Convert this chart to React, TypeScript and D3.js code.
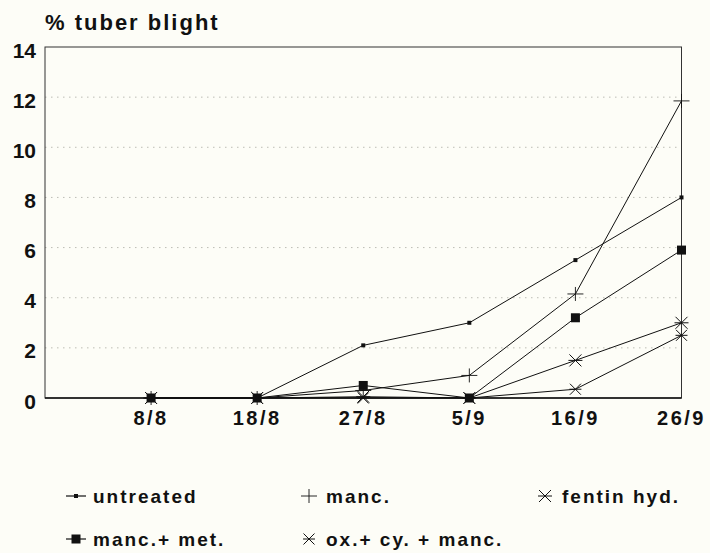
import * as d3 from 'd3';

const dates = ['', '8/8', '18/8', '27/8', '5/9', '16/9', '26/9'];
const yTicks = [0, 2, 4, 6, 8, 10, 12, 14];
const gridValues = [2, 4, 6, 8, 10, 12];

const untreated = [null, 0, 0, 2.1, 3.0, 5.5, 8.0];
const manc = [null, 0, 0, 0.3, 0.9, 4.15, 11.85];
const mancMet = [null, 0, 0, 0.5, 0, 3.2, 5.9];
const fentin = [null, 0, 0, 0.05, 0, 1.5, 3.0];
const oxCyManc = [null, 0, 0, 0, 0, 0.35, 2.5];

type Marker = 'dot' | 'plus' | 'square' | 'star' | 'cross';

const seriesList: { name: string; values: (number | null)[]; marker: Marker }[] = [
  { name: 'untreated', values: untreated, marker: 'dot' },
  { name: 'manc.', values: manc, marker: 'plus' },
  { name: 'manc.+ met.', values: mancMet, marker: 'square' },
  { name: 'fentin hyd.', values: fentin, marker: 'star' },
  { name: 'ox.+ cy. + manc.', values: oxCyManc, marker: 'cross' },
];

const legendOrder = [
  { s: 0, col: 0, row: 0 },
  { s: 1, col: 1, row: 0 },
  { s: 3, col: 2, row: 0 },
  { s: 2, col: 0, row: 1 },
  { s: 4, col: 1, row: 1 },
];

const left = 45;
const right = 681.5;
const top = 47;
const bottom = 398;

const x = d3.scalePoint<string>().domain(dates).range([left, right]);
const y = d3.scaleLinear().domain([0, 14]).range([bottom, top]);

const font = '"Liberation Sans", Arial, sans-serif';

function MarkerShape({ type, cx, cy }: { type: Marker; cx: number; cy: number }) {
  const k = '#111';
  if (type === 'dot') return <rect x={cx - 2} y={cy - 2} width={4} height={4} fill={k} />;
  if (type === 'square') return <rect x={cx - 4.5} y={cy - 4.5} width={9} height={9} fill={k} />;
  if (type === 'plus')
    return (
      <path d={`M${cx - 8},${cy}H${cx + 8}M${cx},${cy - 7}V${cy + 7}`} stroke={k} strokeWidth={0.9} fill="none" />
    );
  const r = type === 'star' ? 6 : 5.5;
  const extra = type === 'star' ? `M${cx - 7},${cy}H${cx + 7}` : `M${cx - 6},${cy}H${cx + 6}`;
  return (
    <path
      d={`M${cx - r},${cy - r}L${cx + r},${cy + r}M${cx - r},${cy + r}L${cx + r},${cy - r}${extra}`}
      stroke={k}
      strokeWidth={1}
      fill="none"
    />
  );
}

export default function App() {
  const line = d3
    .line<number | null>()
    .defined((d) => d !== null)
    .x((_, i) => x(dates[i]) as number)
    .y((d) => y(d as number));

  const legendX = [76, 309, 545];
  const legendY = [496, 539];

  return (
    <svg
      width={710}
      height={553}
      style={{ position: 'absolute', left: 0, top: 0, background: '#fdfdf7' }}
    >
      <rect width={710} height={553} fill="#fdfdf7" />
      <text x={45} y={30} fontFamily={font} fontWeight="bold" fontSize={22} letterSpacing={2} fill="#111">
        % tuber blight
      </text>

      {gridValues.map((v) => (
        <line
          key={v}
          x1={left}
          x2={right}
          y1={y(v)}
          y2={y(v)}
          stroke="#bdbdb5"
          strokeWidth={1}
          strokeDasharray="1.5 4.5"
        />
      ))}

      <rect x={left} y={top} width={right - left} height={bottom - top} fill="none" stroke="#333" strokeWidth={1} />
      <line x1={left} x2={right} y1={bottom} y2={bottom} stroke="#111" strokeWidth={1.3} />

      {yTicks.map((v) => (
        <text
          key={v}
          x={36}
          y={y(v) + 3}
          textAnchor="end"
          dominantBaseline="central"
          fontFamily={font}
          fontWeight="bold"
          fontSize={21}
          fill="#111"
        >
          {v}
        </text>
      ))}

      {dates.map((d) =>
        d ? (
          <text
            key={d}
            x={x(d)}
            y={425}
            textAnchor="middle"
            fontFamily={font}
            fontWeight="bold"
            fontSize={20}
            letterSpacing={2.5}
            fill="#111"
          >
            {d}
          </text>
        ) : null
      )}

      {seriesList.map((s) => (
        <g key={s.name}>
          <path d={line(s.values) ?? ''} fill="none" stroke="#111" strokeWidth={1} />
          {s.values.map((v, i) =>
            v === null ? null : <MarkerShape key={i} type={s.marker} cx={x(dates[i]) as number} cy={y(v)} />
          )}
        </g>
      ))}

      {legendOrder.map(({ s, col, row }) => {
        const item = seriesList[s];
        const cx = legendX[col];
        const cy = legendY[row];
        return (
          <g key={item.name}>
            {item.marker === 'dot' || item.marker === 'square' ? (
              <line x1={cx - 10} x2={cx + 10} y1={cy} y2={cy} stroke="#111" strokeWidth={1.2} />
            ) : null}
            <MarkerShape type={item.marker} cx={cx} cy={cy} />
            <text
              x={cx + 17}
              y={cy}
              dominantBaseline="central"
              fontFamily={font}
              fontWeight="bold"
              fontSize={19}
              letterSpacing={2}
              fill="#111"
            >
              {item.name}
            </text>
          </g>
        );
      })}
    </svg>
  );
}
